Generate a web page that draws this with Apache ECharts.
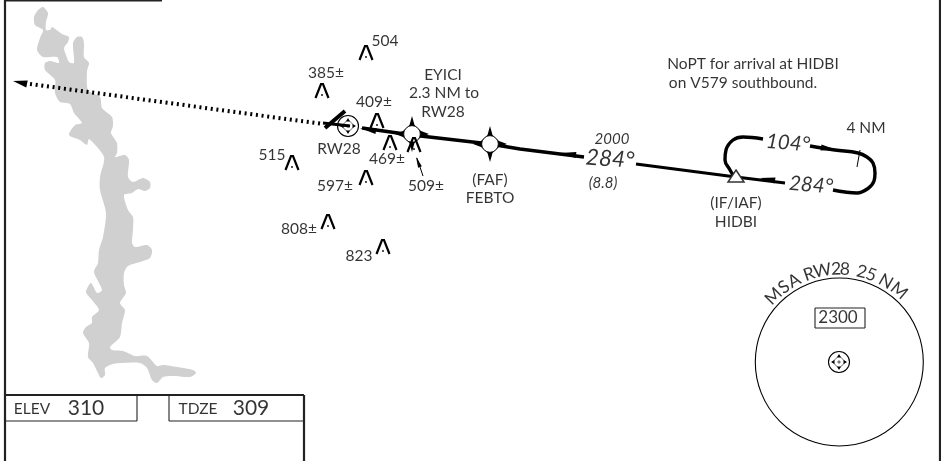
<!DOCTYPE html>
<html><head><meta charset="utf-8">
<style>html,body{margin:0;padding:0;background:#fff}#c{width:941px;height:461px}</style>
<script src="https://cdn.jsdelivr.net/npm/echarts@6/dist/echarts.min.js"></script>
</head><body><div id="c"></div>
<script>
const lake=[[43,7],[48,13],[46,22],[46,30],[50,30],[52,27],[62,34],[69,37],[68,42],[64,48],[66,55],[69,62],[74,63],[73,43],[77,37],[82,37],[84,43],[84,57],[89,63],[87,71],[88,90],[100,97],[102,108],[112,117],[113,126],[111,133],[117,143],[117,153],[115,157],[125,155],[129,160],[128,177],[133,182],[143,178],[150,182],[150,188],[145,191],[138,189],[132,193],[124,195],[128,210],[133,217],[133,230],[132,243],[135,247],[147,245],[152,250],[150,258],[140,262],[128,266],[124,273],[124,285],[126,293],[120,303],[125,310],[122,323],[120,337],[110,347],[112,350],[123,351],[135,356],[147,356],[157,366],[163,365],[177,367],[193,370],[196,373],[190,377],[173,376],[163,377],[157,383],[152,380],[147,368],[140,363],[123,363],[113,364],[105,368],[105,375],[101,378],[98,373],[93,363],[88,357],[89,343],[83,333],[86,327],[92,323],[92,317],[99,310],[92,300],[86,292],[91,283],[97,293],[102,290],[94,272],[98,263],[99,250],[103,237],[106,213],[100,190],[100,177],[104,157],[89,139],[87,145],[80,140],[69,135],[75,125],[82,123],[74,113],[70,104],[60,102],[55,93],[55,80],[45,70],[45,63],[50,61],[59,63],[57,57],[43,57],[37,50],[40,38],[43,30],[35,25],[34,17],[38,10]];
const missedDots=[[30,84],[323,124]];
const runwayStub=[[323,123],[350,126]];
const runwaySlash=[[325,128],[345,111]];
const finalLeg=[[362,128],[412,135],[490,144],[520,149],[584,157]];
const middleLeg=[[636,164],[736,177]];
const inboundLeg=[[736,177],[785,183]];
const turnRight=[[833,190],[845,192],[857,193],[868,188.5],[874,181],[875,173],[873,163],[867,157],[858,153],[835,150],[810,146]];
const turnLeft=[[763,139],[752,137.5],[743,137],[733,140],[726,150],[725,160],[730,170],[733,175]];
const fourNmTick=[[860,150],[857,167]];
const leader509=[[423,176],[417,158]];
const frameLines=[[[5,0],[5,461]],[[5,0.5],[162,0.5]],[[940,0],[940,461]],[[5,395],[304,395]],[[304,395],[304,461]]];
const boxLines=[[[5,421],[137,421]],[[137,395],[137,421]],[[169,395],[169,421]],[[169,421],[304,421]]];
const msaBoxLines=[[[815,308],[865,308]],[[865,308],[865,328]],[[865,328],[815,328]],[[815,328],[815,308]]];
const terrain=[[366,53],[322,91],[377,121],[390,143],[414,145],[292,163],[366,178],[328,222],[383,247]];
const fixes=[[412,134],[490,144]];
const navaids=[[348,126,10.5],[839,362,10.5]];
const msaCircle=[[839.3,362,84]];
const iafFix=[[736,170]];
const arrows=[[13,81,27,84,3.6],[360,128,376,131,3],[560,153,576,155,3],[760,178,775,180.5,3],[837,150,821,147.5,3],[416,157,420,167,2]];
const labels=[
["504",385,41,15.5],["385±",326,73,15.5],["409±",374,102,15.5],["469±",387,159,15.5],["509±",426,186,15.5],
["515",272,155,15.5],["597±",335,186,15.5],["808±",299,229,15.5],["823",359,256,15.5],["RW28",339,149,15.5],
["EYICI",443,75,15.5],["2.3 NM to",444,93,15.5],["RW28",443,112,15.5],["(FAF)",490,180,15.5],["FEBTO",490,198,15.5],
["NoPT for arrival at HIDBI",753,64,15.5],["on V579 southbound.",743,83,15.5],
["2000",612,139,15,"italic"],["284°",610,159,22.5,"italic",-4],["(8.8)",603,183,15,"italic"],
["104°",788,143,20.5,"italic",-5],["284°",811,185,20.5,"italic",-5],["4 NM",866,128,15.5],
["(IF/IAF)",736,203,15.5],["HIDBI",736,222,15.5],["2300",838,318,17],
["ELEV",32,409,15.5],["310",86,408,21],["TDZE",198,409,15.5],["309",251,408,21]];
const msaTitle=[["M",-45],["S",-36.5],["A",-29],["R",-19],["W",-10.5],["2",-2],["8",3.5],["2",14],["5",20],["N",30],["M",40]];

const FONT='Lato, "Open Sans", sans-serif';
const seg=(d,w,c,extra)=>Object.assign({type:'line',data:d,showSymbol:false,symbol:'none',clip:false,silent:true,animation:false,
  lineStyle:Object.assign({width:w,color:c||'#000',cap:'butt'},extra||{})},{});
const fat=(d,w,smooth)=>{const s=seg(d,w,'#000');s.smooth=smooth||false;s.z=4;return s;};
function custom(data,render,z){return {type:'custom',data:data,renderItem:render,clip:false,silent:true,animation:false,z:z,encode:{x:0,y:1}};}

function renderLake(p,api){
  if(p.dataIndex!==0)return null;
  return {type:'polygon',shape:{points:lake.map(q=>api.coord(q)),smooth:0.25},style:{fill:'#d0d0d0'}};
}
function renderTerrain(p,api){
  const c=api.coord([api.value(0),api.value(1)]),x=c[0],y=c[1];
  return {type:'group',children:[
    {type:'polyline',shape:{points:[[x-6.5,y+7],[x-1,y-7],[x+1,y-7],[x+6.5,y+7]]},style:{stroke:'#000',fill:null,lineWidth:2.2}},
    {type:'circle',shape:{cx:x,cy:y+4,r:0.9},style:{fill:'#000'}}]};
}
function renderFix(p,api){
  const c=api.coord([api.value(0),api.value(1)]),x=c[0],y=c[1];
  const o=[[0,-18],[2.5,-9],[9,-3],[17,0],[9,3],[2.5,9],[0,18],[-2.5,9],[-9,3],[-17,0],[-9,-3],[-2.5,-9]];
  return {type:'group',children:[
    {type:'polygon',shape:{points:o.map(a=>[x+a[0],y+a[1]])},style:{fill:'#000'}},
    {type:'circle',shape:{cx:x,cy:y,r:8.3},style:{fill:'#fff',stroke:'#000',lineWidth:0.8}}]};
}
function renderNavaid(p,api){
  const c=api.coord([api.value(0),api.value(1)]),x=c[0],y=c[1],r=api.value(2);
  const kids=[{type:'circle',shape:{cx:x,cy:y,r:r},style:{fill:'#fff',stroke:'#000',lineWidth:1.1}},
    {type:'circle',shape:{cx:x,cy:y,r:1.1},style:{fill:'#fff',stroke:'#000',lineWidth:0.7}},
    {type:'polygon',shape:{points:[[x,y-6.5],[x+6.5,y],[x,y+6.5],[x-6.5,y]],smooth:0},style:{fill:'none',stroke:'#000',lineWidth:0.6}}];
  [[0,-1],[1,0],[0,1],[-1,0]].forEach(d=>{
    const px=-d[1],py=d[0];
    kids.push({type:'polygon',shape:{points:[[x+d[0]*8,y+d[1]*8],[x+d[0]*4.5+px*2,y+d[1]*4.5+py*2],[x+d[0]*4.5-px*2,y+d[1]*4.5-py*2]]},style:{fill:'#000'}});
  });
  return {type:'group',children:kids};
}
function renderCircle(p,api){
  const c=api.coord([api.value(0),api.value(1)]);
  return {type:'circle',shape:{cx:c[0],cy:c[1],r:api.value(2)},style:{fill:'none',stroke:'#000',lineWidth:1.1}};
}
function renderIaf(p,api){
  const c=api.coord([api.value(0),api.value(1)]),x=c[0],y=c[1];
  return {type:'polygon',shape:{points:[[x,y],[x+8,y+12],[x-8,y+12]]},style:{fill:'#fff',stroke:'#333',lineWidth:1.5}};
}
function renderArrow(p,api){
  const a=api.coord([api.value(0),api.value(1)]),b=api.coord([api.value(2),api.value(3)]),h=api.value(4);
  const dx=b[0]-a[0],dy=b[1]-a[1],l=Math.hypot(dx,dy),nx=-dy/l*h,ny=dx/l*h;
  return {type:'polygon',shape:{points:[a,[b[0]+nx,b[1]+ny],[b[0]-nx,b[1]-ny]]},style:{fill:'#000'}};
}
const labelData=labels.map(l=>({value:[l[1],l[2]],label:{show:true,position:'inside',formatter:l[0],fontSize:l[3],fontStyle:l[4]||'normal',rotate:l[5]||0,color:'#000',fontFamily:FONT,align:'center',verticalAlign:'middle'}}));
const arcData=msaTitle.map(t=>{const a=t[1]*Math.PI/180;return {value:[839.3+93*Math.sin(a),362-93*Math.cos(a)],
  label:{show:true,position:'inside',formatter:t[0],fontSize:17.5,rotate:-t[1],color:'#000',fontFamily:FONT,align:'center',verticalAlign:'middle'}};});

const chart=echarts.init(document.getElementById('c'),null,{renderer:'canvas'});
chart.setOption({animation:false,backgroundColor:'#fff',tooltip:{show:false},legend:{show:false},
  grid:{left:0,right:0,top:0,bottom:0},
  xAxis:{type:'value',min:0,max:941,show:false},
  yAxis:{type:'value',min:0,max:461,inverse:true,show:false},
  series:[
    custom([[0,0]],renderLake,1),
    seg(missedDots,4,'#000',{type:[2,3.7]}),
    ...frameLines.map(d=>seg(d,2.2,'#222')),
    ...boxLines.map(d=>seg(d,1.1,'#222')),
    ...msaBoxLines.map(d=>seg(d,1.1,'#222')),
    custom(msaCircle,renderCircle,2),
    custom(navaids,renderNavaid,3),
    fat(runwayStub,3),fat(runwaySlash,4),
    fat(finalLeg,3.4),fat(middleLeg,3),fat(inboundLeg,3),
    fat(turnRight,3.4,0.4),fat(turnLeft,3.4,0.4),
    seg(fourNmTick,1,'#000'),seg(leader509,1,'#000'),
    custom(fixes,renderFix,6),
    custom(terrain,renderTerrain,7),
    custom(iafFix,renderIaf,7),
    custom(arrows,renderArrow,8),
    {type:'scatter',data:labelData,symbolSize:0,silent:true,animation:false,clip:false,z:9},
    {type:'scatter',data:arcData,symbolSize:0,silent:true,animation:false,clip:false,z:9}
  ]});
</script></body></html>
